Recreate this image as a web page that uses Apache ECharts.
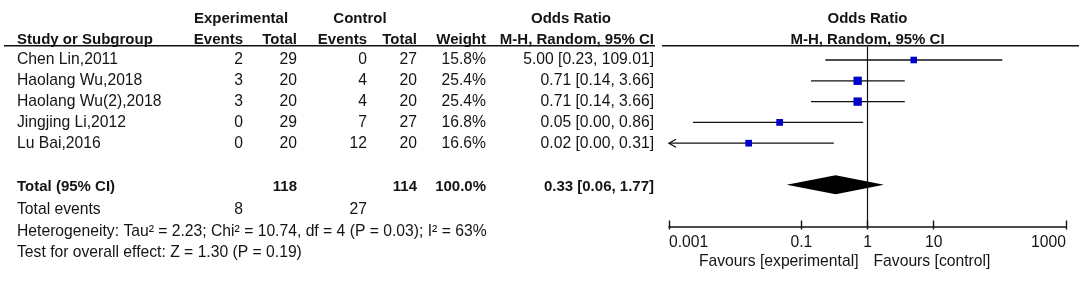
<!DOCTYPE html>
<html><head><meta charset="utf-8">
<script src="https://cdn.jsdelivr.net/npm/echarts@6/dist/echarts.min.js"></script>
<style>html,body{margin:0;padding:0;background:#fff}#c{width:1084px;height:283px}</style>
</head><body><div id="c"></div>
<script>
// ---------------- data ----------------
const studies   = ['Chen Lin,2011','Haolang Wu,2018','Haolang Wu(2),2018','Jingjing Li,2012','Lu Bai,2016'];
const expEvents = [2, 3, 3, 0, 0];
const expTotal  = [29, 20, 20, 29, 20];
const ctlEvents = [0, 4, 4, 7, 12];
const ctlTotal  = [27, 20, 20, 27, 20];
const weights   = [15.8, 25.4, 25.4, 16.8, 16.6];
const orValue   = [5.00, 0.71, 0.71, 0.047, 0.016];
const ciLow     = [0.23, 0.14, 0.14, 0.0023, 0.0005];
const ciHigh    = [109.01, 3.66, 3.66, 0.86, 0.31];
const totalN      = [118, 114];
const totalWeight = 100.0;
const pooled      = [0.33, 0.06, 1.77];   // OR, low, high
const totalEvents = [8, 27];
const heterogeneity = 'Heterogeneity: Tau\u00b2 = 2.23; Chi\u00b2 = 10.74, df = 4 (P = 0.03); I\u00b2 = 63%';
const overallTest   = 'Test for overall effect: Z = 1.30 (P = 0.19)';
const tickValues = [0.001, 0.1, 1, 10, 1000];
const axisRange  = [0.001, 1000];

// ---------------- layout ----------------
const ROW0 = 60, P = 20.8;
const FONT = '"Liberation Sans", Arial, sans-serif';
const REG = '15.7px ' + FONT, BOLD = 'bold 15px ' + FONT;
const INK = '#141414';
const lg = v => Math.round(Math.log10(v) * 1e9) / 1e9;
const xMin = lg(axisRange[0]), xMax = lg(axisRange[1]);
const plotLeft = 669, plotWidth = 397, plotTop = 46.5, plotBottom = 226.5;
const fmt = v => v.toFixed(2);
const orText = (o, l, h) => fmt(o) + ' [' + fmt(l) + ', ' + fmt(h) + ']';

const col = {name:17, expEv:243, expTot:297, ctlEv:367, ctlTot:417, weight:486, or:654};
const items = [];
const T = (x, row, text, align, bold) => items.push({x, row, text: String(text), align, bold});
T(241, -1.98, 'Experimental', 'center', true);
T(360, -1.98, 'Control', 'center', true);
T(571, -1.98, 'Odds Ratio', 'center', true);
T(col.name, -0.98, 'Study or Subgroup', 'left', true);
T(col.expEv, -0.98, 'Events', 'right', true);
T(col.expTot, -0.98, 'Total', 'right', true);
T(col.ctlEv, -0.98, 'Events', 'right', true);
T(col.ctlTot, -0.98, 'Total', 'right', true);
T(col.weight, -0.98, 'Weight', 'right', true);
T(col.or, -0.98, 'M-H, Random, 95% CI', 'right', true);
studies.forEach((s, i) => {
  T(col.name, i, s, 'left', false);
  T(col.expEv, i, expEvents[i], 'right', false);
  T(col.expTot, i, expTotal[i], 'right', false);
  T(col.ctlEv, i, ctlEvents[i], 'right', false);
  T(col.ctlTot, i, ctlTotal[i], 'right', false);
  T(col.weight, i, weights[i].toFixed(1) + '%', 'right', false);
  T(col.or, i, orText(orValue[i], ciLow[i], ciHigh[i]), 'right', false);
});
const TOTAL_ROW = studies.length + 1;
T(col.name, TOTAL_ROW + 0.08, 'Total (95% CI)', 'left', true);
T(col.expTot, TOTAL_ROW + 0.08, totalN[0], 'right', true);
T(col.ctlTot, TOTAL_ROW + 0.08, totalN[1], 'right', true);
T(col.weight, TOTAL_ROW + 0.08, totalWeight.toFixed(1) + '%', 'right', true);
T(col.or, TOTAL_ROW + 0.08, orText(pooled[0], pooled[1], pooled[2]), 'right', true);
T(col.name, 7.2, 'Total events', 'left', false);
T(col.expEv, 7.2, totalEvents[0], 'right', false);
T(col.ctlEv, 7.2, totalEvents[1], 'right', false);
T(col.name, 8.25, heterogeneity, 'left', false);
T(col.name, 9.25, overallTest, 'left', false);

const rules = [[4, 655, -0.69], [662, 1079, -0.69]];

const plotItems = [
  {row: -1.98, text: 'Odds Ratio', align: 'center', bold: true, dx: 0},
  {row: -0.98, text: 'M-H, Random, 95% CI', align: 'center', bold: true, dx: 0},
  {row: 9.68, text: 'Favours [experimental]', align: 'right', bold: false, dx: -9},
  {row: 9.68, text: 'Favours [control]', align: 'left', bold: false, dx: 6}
];

function textEl(p, t) {
  return {type: 'text', x: p[0], y: p[1], style: {
    text: t.text, font: t.bold ? BOLD : REG, fill: INK,
    align: t.align, textAlign: t.align, verticalAlign: 'middle', textVerticalAlign: 'middle'}};
}

const tableMin = -2.5, tableMax = 10.5;
const fMin = (plotTop - ROW0) / P, fMax = (plotBottom - ROW0) / P;

const chart = echarts.init(document.getElementById('c'), null, {renderer: 'canvas'});
chart.setOption({
  animation: false,
  backgroundColor: '#fff',
  grid: [
    {left: 0, width: 1084, top: ROW0 + tableMin * P, height: (tableMax - tableMin) * P},
    {left: plotLeft, width: plotWidth, top: plotTop, height: plotBottom - plotTop},
    {left: plotLeft, width: plotWidth, top: plotTop, height: plotBottom - plotTop}
  ],
  xAxis: [
    {gridIndex: 0, type: 'value', min: 0, max: 1084, show: false},
    {gridIndex: 1, type: 'value', position: 'bottom', min: xMin, max: xMax, splitLine: {show: false},
     axisLine: {show: true, onZero: false, lineStyle: {color: '#111', width: 1.6}},
     axisTick: {show: true, inside: true, length: 6, lineStyle: {color: '#111', width: 1.4}, customValues: tickValues.map(lg)},
     axisLabel: {show: true, customValues: tickValues.map(lg), margin: 8, color: INK, fontSize: 15.7, fontFamily: FONT,
       alignMinLabel: 'left', alignMaxLabel: 'right', hideOverlap: false,
       formatter: v => { const t = tickValues.find(tv => Math.abs(lg(tv) - v) < 1e-6); return t === undefined ? '' : String(t); }}},
    {gridIndex: 2, type: 'value', position: 'bottom', min: xMin, max: xMax, splitLine: {show: false},
     axisLine: {show: false, onZero: false},
     axisTick: {show: true, inside: false, length: 3, lineStyle: {color: '#111', width: 1.4}, customValues: tickValues.map(lg)},
     axisLabel: {show: false}}
  ],
  yAxis: [
    {gridIndex: 0, type: 'value', inverse: true, min: tableMin, max: tableMax, show: false},
    {gridIndex: 1, type: 'value', inverse: true, min: fMin, max: fMax, show: false},
    {gridIndex: 2, type: 'value', inverse: true, min: fMin, max: fMax, show: false}
  ],
  series: [
    {type: 'custom', xAxisIndex: 0, yAxisIndex: 0, silent: true, clip: false,
     data: items.map(t => [t.x, t.row]),
     renderItem: (params, api) => textEl(api.coord([api.value(0), api.value(1)]), items[params.dataIndex])},
    {type: 'custom', xAxisIndex: 0, yAxisIndex: 0, silent: true, clip: false,
     data: rules,
     renderItem: (params, api) => {
       const a = api.coord([api.value(0), api.value(2)]), b = api.coord([api.value(1), api.value(2)]);
       return {type: 'line', shape: {x1: a[0], y1: a[1], x2: b[0], y2: b[1]}, style: {stroke: '#111', lineWidth: 1.5}};
     }},
    {type: 'custom', xAxisIndex: 1, yAxisIndex: 1, silent: true, clip: false,
     data: plotItems.map(t => [0, t.row]),
     renderItem: (params, api) => {
       const t = plotItems[params.dataIndex];
       const p = api.coord([api.value(0), api.value(1)]);
       return textEl([p[0] + t.dx, p[1]], t);
     },
     markLine: {silent: true, symbol: 'none', label: {show: false},
       lineStyle: {color: '#111', width: 1.2, type: 'solid'}, data: [{xAxis: 0}]}},
    {type: 'custom', xAxisIndex: 1, yAxisIndex: 1, silent: true, clip: false, z: 3,
     data: studies.map((s, i) => [lg(ciLow[i]), lg(ciHigh[i]), i]),
     renderItem: (params, api) => {
       const lo = api.value(0), hi = api.value(1), row = api.value(2);
       const p1 = api.coord([Math.max(lo, xMin), row]);
       const p2 = api.coord([Math.min(hi, xMax), row]);
       const ch = [{type: 'line', shape: {x1: p1[0], y1: p1[1], x2: p2[0], y2: p2[1]}, style: {stroke: '#111', lineWidth: 1.3}}];
       if (lo < xMin) ch.push({type: 'polyline', shape: {points: [[p1[0] + 7, p1[1] - 4], [p1[0], p1[1]], [p1[0] + 7, p1[1] + 4]]}, style: {stroke: '#111', lineWidth: 1.3, fill: null}});
       if (hi > xMax) ch.push({type: 'polyline', shape: {points: [[p2[0] - 7, p2[1] - 4], [p2[0], p2[1]], [p2[0] - 7, p2[1] + 4]]}, style: {stroke: '#111', lineWidth: 1.3, fill: null}});
       return {type: 'group', children: ch};
     }},
    {type: 'scatter', xAxisIndex: 1, yAxisIndex: 1, silent: true, z: 4,
     symbol: 'rect',
     data: studies.map((s, i) => ({value: [lg(orValue[i]), i], symbolSize: Math.sqrt(weights[i]) * 1.65})),
     itemStyle: {color: '#0000c8', opacity: 1}},
    {type: 'custom', xAxisIndex: 1, yAxisIndex: 1, silent: true, clip: false, z: 4,
     data: [[lg(pooled[1]), lg(pooled[0]), lg(pooled[2]), TOTAL_ROW]],
     renderItem: (params, api) => {
       const r = api.value(3), h = 0.46;
       const L = api.coord([api.value(0), r]), C1 = api.coord([api.value(1), r - h]),
             R = api.coord([api.value(2), r]), C2 = api.coord([api.value(1), r + h]);
       return {type: 'polygon', shape: {points: [L, C1, R, C2]}, style: {fill: '#000'}};
     }},
    {type: 'scatter', xAxisIndex: 2, yAxisIndex: 2, data: [], silent: true}
  ]
});
</script>
</body></html>
